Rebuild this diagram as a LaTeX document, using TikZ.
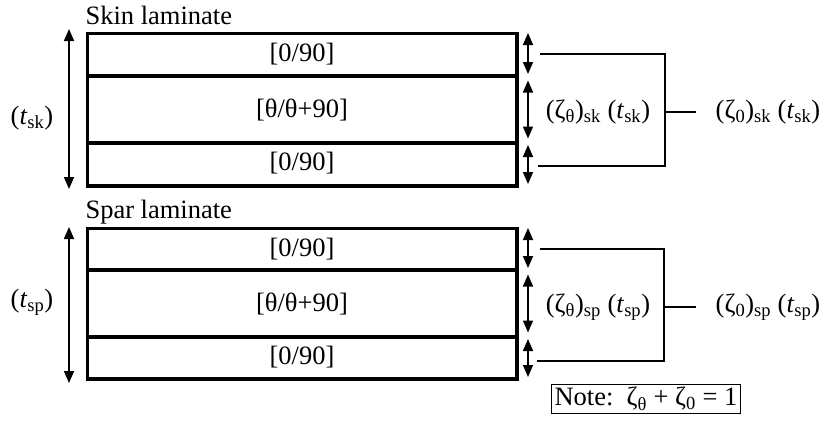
\documentclass[tikz,border=0pt]{standalone}
\usepackage{fontspec}
\setmainfont{Liberation Serif}
\usetikzlibrary{positioning, arrows.meta}

\newcommand{\zsub}[2]{(ζ\textsubscript{#1})\textsubscript{#2} (\textit{t}\textsubscript{#2})}

\begin{document}
\begin{tikzpicture}[
    x=1pt, y=-1pt,
    every node/.style={font=\fontsize{26.5}{30}\selectfont},
    layer/.style={rectangle, draw, line width=2pt, minimum width=428pt, inner sep=0pt},
    outer/.style={line width=3pt},
    dim/.style={{Triangle[length=12pt,width=10pt]}-{Triangle[length=12pt,width=10pt]}, line width=1.6pt},
    brace/.style={line width=2.2pt}
]
    \useasboundingbox (0,0) rectangle (828,423);

    % Skin laminate
    \node[anchor=west] (sklabel) at (82,15) {Skin laminate};
    \node[layer, minimum height=41pt] (sktop) at (302,54.5) {[0/90]};
    \node[layer, minimum height=67pt] (skmid) at (302,110) {[θ/θ+90]};
    \node[layer, minimum height=43pt] (skbot) at (302,163.5) {[0/90]};
    \draw[outer] (sktop.north west) rectangle (skbot.south east);

    % Spar laminate
    \node[anchor=west] (splabel) at (82,212) {Spar laminate};
    \node[layer, minimum height=40pt] (sptop) at (302,249) {[0/90]};
    \node[layer, minimum height=67pt] (spmid) at (302,304) {[θ/θ+90]};
    \node[layer, minimum height=42pt] (spbot) at (302,357) {[0/90]};
    \draw[outer] (sptop.north west) rectangle (spbot.south east);

    % Total thickness
    \node (sktot) at (32,118) {(\textit{t}\textsubscript{sk})};
    \node (sptot) at (32,302) {(\textit{t}\textsubscript{sp})};
    \draw[dim] ([xshift=-18pt,yshift=4pt]sktop.north west) -- ([xshift=-18pt,yshift=-3pt]skbot.south west);
    \draw[dim] ([xshift=-18pt,yshift=1pt]sptop.north west) -- ([xshift=-18pt,yshift=-4pt]spbot.south west);

    % Layer thickness
    \foreach \lam in {sk,sp}{
        \draw[dim] ([xshift=11pt]\lam top.north east) -- ([xshift=11pt,yshift=2pt]\lam top.south east);
        \draw[dim] ([xshift=11pt,yshift=-5pt]\lam mid.north east) -- ([xshift=11pt,yshift=6pt]\lam mid.south east);
        \draw[dim] ([xshift=11pt,yshift=-4pt]\lam bot.north east) -- ([xshift=11pt,yshift=2pt]\lam bot.south east);
    }

    % Fractions
    \node (skzt) at (598,112) {\zsub{θ}{sk}};
    \node (skzo) at (768,112) {\zsub{0}{sk}};
    \coordinate (skbr) at (665,112);
    \draw[brace] (540,54) -| (skbr) |- (538,166);
    \draw[brace] (skbr) -- ++(31,0);

    \node (spzt) at (598,307) {\zsub{θ}{sp}};
    \node (spzo) at (768,307) {\zsub{0}{sp}};
    \coordinate (spbr) at (664,307);
    \draw[brace] (540,249) -| (spbr) |- (537,361);
    \draw[brace] (spbr) -- ++(32,0);

    % Note
    \node[draw, line width=1.6pt, inner sep=3pt] (note) at (646,399) {Note:\ \ ζ\textsubscript{θ} + ζ\textsubscript{0} = 1};
\end{tikzpicture}
\end{document}
